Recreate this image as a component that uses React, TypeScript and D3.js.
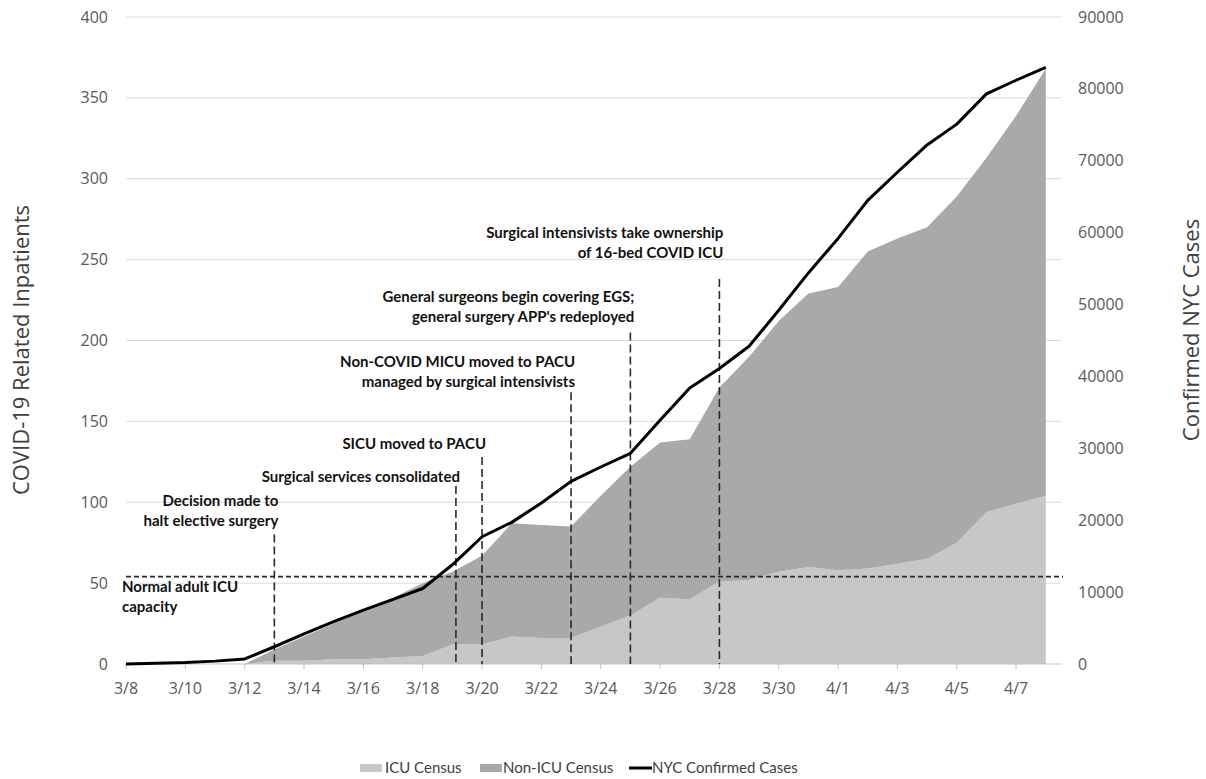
import React from "react";
import * as d3 from "d3";

const dates = ["3/8","3/9","3/10","3/11","3/12","3/13","3/14","3/15","3/16","3/17","3/18","3/19","3/20","3/21","3/22","3/23","3/24","3/25","3/26","3/27","3/28","3/29","3/30","3/31","4/1","4/2","4/3","4/4","4/5","4/6","4/7","4/8"];
const icuCensus = [0,0,0,0,0,2,2,3,3,4,5,12,12,17,16,16,23,30,41,40,51,52,57,60,58,59,62,65,75,94,99,104];
const nonIcuCensus = [0,0,0,0,0,7,15,22,30,37,45,45,55,70,70,69,81,92,96,99,120,138,155,169,175,196,201,205,214,219,240,264];
const nycCases = [0,100,200,400,700,2400,4200,5900,7500,9000,10500,13800,17700,19700,22400,25400,27400,29300,33900,38400,41100,44200,49200,54400,59200,64500,68400,72200,75100,79300,81200,83000];
const leftTicks = [0,50,100,150,200,250,300,350,400];
const rightTicks = [0,10000,20000,30000,40000,50000,60000,70000,80000,90000];
const icuCapacity = 54;
const events = [
  { date: "3/13", lines: ["Decision made to", "halt elective surgery"], level: 80, labelLevel: 88.4 },
  { date: "3/19", lines: ["Surgical services consolidated"], level: 110, labelLevel: 115.6 },
  { date: "3/20", lines: ["SICU moved to PACU"], level: 128, labelLevel: 136 },
  { date: "3/23", lines: ["Non-COVID MICU moved to PACU", "managed by surgical intensivists"], level: 168, labelLevel: 174.3 },
  { date: "3/25", lines: ["General surgeons begin covering EGS;", "general surgery APP's redeployed"], level: 205, labelLevel: 214.5 },
  { date: "3/28", lines: ["Surgical intensivists take ownership", "of 16-bed COVID ICU"], level: 238, labelLevel: 254 },
];
const legendItems = ["ICU Census", "Non-ICU Census", "NYC Confirmed Cases"];

export default function App() {
  const W = 1206, H = 779;
  const x0 = 126, dayW = 29.67;
  const x = d3.scaleLinear().domain([0, 30]).range([x0, x0 + 30 * dayW]);
  const y = d3.scaleLinear().domain([0, 400]).range([664, 17]);
  const yR = d3.scaleLinear().domain([0, 90000]).range([664, 17]);
  const gridX1 = 1061;

  const stackData = dates.map((d, i) => ({ i, icu: icuCensus[i], non: nonIcuCensus[i] }));
  const series = d3.stack<any>().keys(["icu", "non"])(stackData);
  const area = d3.area<any>().x((d: any) => x(d.data.i)).y0((d: any) => y(d[0])).y1((d: any) => y(d[1]));
  const line = d3.line<number>().x((_, i) => x(i)).y((v) => yR(v));
  const colors = ["#c7c7c7", "#a9a9a9"];
  const tickFont = "'Open Sans', sans-serif";
  const annFont = "Lato, 'Open Sans', sans-serif";

  const eventX = (d: string) => {
    const i = dates.indexOf(d);
    const extra = d === "3/19" ? 0.12 : 0;
    return x(i + extra);
  };

  return (
    <svg width={W} height={H} style={{ position: "absolute", left: 0, top: 0, background: "#fff" }}>
      {leftTicks.map((t) => (
        <g key={"g" + t}>
          {t > 0 && <line x1={x0} x2={gridX1} y1={y(t)} y2={y(t)} stroke="#d9d9d9" strokeWidth={1} />}
          <text x={108} y={y(t)} dy="0.35em" textAnchor="end" fontFamily={tickFont} fontSize={16} fill="#595959">{t}</text>
        </g>
      ))}
      {rightTicks.map((t) => (
        <text key={"r" + t} x={1078} y={yR(t)} dy="0.35em" textAnchor="start" fontFamily={tickFont} fontSize={16} fill="#595959">{t}</text>
      ))}
      {series.map((s, k) => (
        <path key={k} d={area(s as any) || ""} fill={colors[k]} />
      ))}
      <line x1={x0} x2={gridX1} y1={y(0)} y2={y(0)} stroke="#bfbfbf" strokeWidth={1} />
      {dates.map((d, i) => i % 2 === 0 && (
        <g key={"x" + d}>
          <line x1={x(i)} x2={x(i)} y1={y(0)} y2={y(0) + 5} stroke="#bfbfbf" />
          <text x={x(i)} y={694} textAnchor="middle" fontFamily={tickFont} fontSize={16} fill="#595959">{d}</text>
        </g>
      ))}
      <line x1={x0} x2={1063} y1={y(icuCapacity)} y2={y(icuCapacity)} stroke="#2a2a2a" strokeWidth={1.6} strokeDasharray="5,3" />
      <text fontFamily={annFont} fontWeight="bold" fontSize={15} fill="#111">
        <tspan x={122} y={592}>Normal adult ICU</tspan>
        <tspan x={122} y={612}>capacity</tspan>
      </text>
      {events.map((e) => {
        const ex = eventX(e.date);
        const lastCenter = y(e.labelLevel);
        const n = e.lines.length;
        return (
          <g key={e.date}>
            <line x1={ex} x2={ex} y1={y(e.level)} y2={y(0)} stroke="#2a2a2a" strokeWidth={1.6} strokeDasharray="8,4" />
            <text fontFamily={annFont} fontWeight="bold" fontSize={15} fill="#111" textAnchor="end">
              {e.lines.map((l, j) => (
                <tspan key={j} x={ex + 4} y={lastCenter - (n - 1 - j) * 20 + 5}>{l}</tspan>
              ))}
            </text>
          </g>
        );
      })}
      <path d={line(nycCases) || ""} fill="none" stroke="#000" strokeWidth={3} strokeLinejoin="round" />
      <text transform={`translate(29,350) rotate(-90)`} textAnchor="middle" fontFamily={tickFont} fontSize={22} fill="#404040">COVID-19 Related Inpatients</text>
      <text transform={`translate(1199,330) rotate(-90)`} textAnchor="middle" fontFamily={tickFont} fontSize={22} fill="#404040">Confirmed NYC Cases</text>
      <g fontFamily={annFont} fontSize={15} fill="#404040">
        <rect x={360} y={764} width={22} height={8} fill={colors[0]} />
        <text x={385} y={773}>{legendItems[0]}</text>
        <rect x={480} y={764} width={22} height={8} fill={colors[1]} />
        <text x={503} y={773}>{legendItems[1]}</text>
        <line x1={629} x2={652} y1={768} y2={768} stroke="#000" strokeWidth={3} />
        <text x={652} y={773}>{legendItems[2]}</text>
      </g>
    </svg>
  );
}
